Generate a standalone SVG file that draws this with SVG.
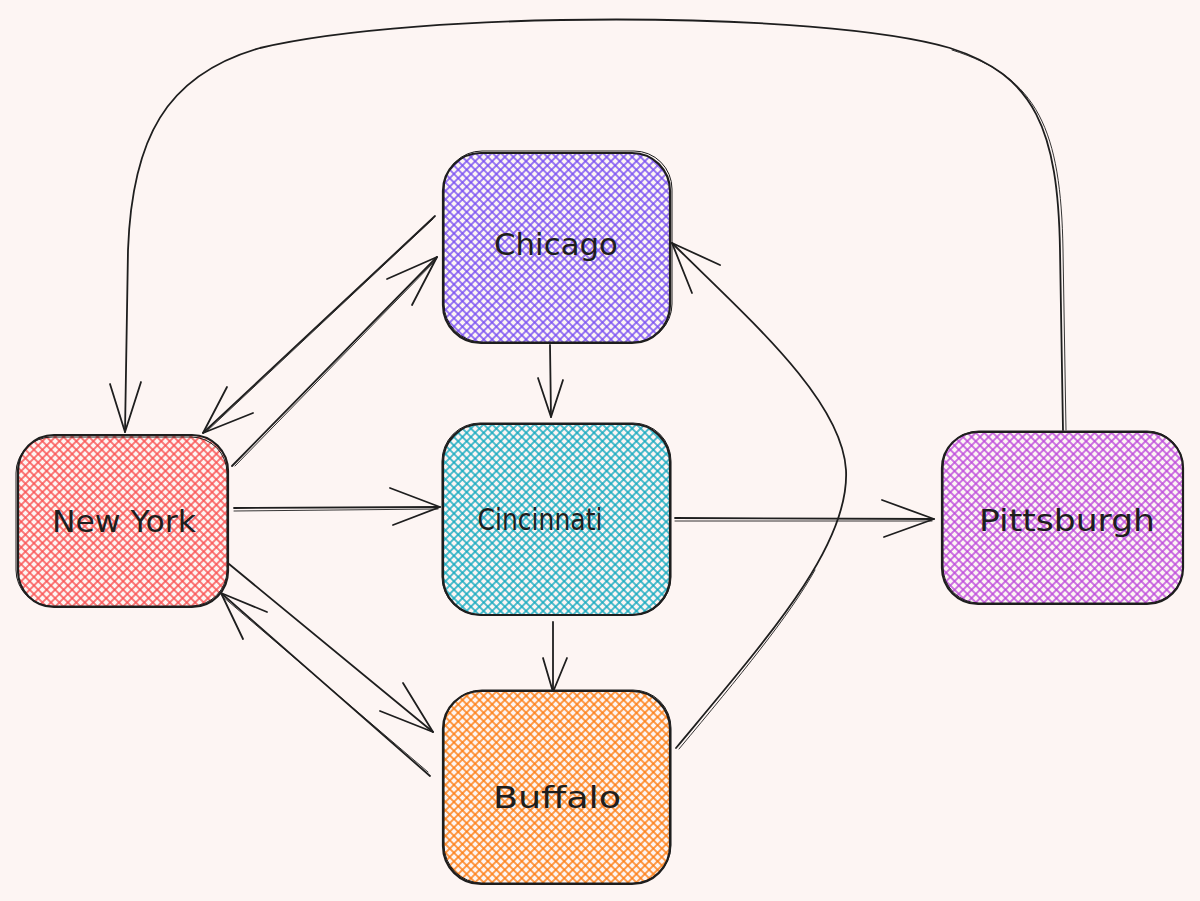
<svg xmlns="http://www.w3.org/2000/svg" width="1200" height="901" viewBox="0 0 1200 901">
<defs>
<style>
.box{stroke:#1e1e1e;stroke-width:2.2;}
.box2{fill:none;stroke:#1e1e1e;stroke-width:1;}
.lbl{font-family:"DejaVu Sans","Liberation Sans",sans-serif;font-size:30px;fill:#1e1e1e;text-anchor:middle;dominant-baseline:central;}
.edge{fill:none;stroke:#1e1e1e;stroke-width:1.8;stroke-linecap:round;stroke-linejoin:round;}
.edge2{fill:none;stroke:#1e1e1e;stroke-width:0.9;stroke-linecap:round;}
</style>
<pattern id="hRed" patternUnits="userSpaceOnUse" width="6" height="6" patternTransform="rotate(45)"><rect width="6" height="6" fill="#fdf5f3"/><path d="M0 0V6M0 0H6M6 0V6M0 6H6" stroke="#fa5252" stroke-width="1.5"/></pattern>
<pattern id="hPurple" patternUnits="userSpaceOnUse" width="6" height="6" patternTransform="rotate(45)"><rect width="6" height="6" fill="#fdf5f3"/><path d="M0 0V6M0 0H6M6 0V6M0 6H6" stroke="#7950f2" stroke-width="1.5"/></pattern>
<pattern id="hTeal" patternUnits="userSpaceOnUse" width="6" height="6" patternTransform="rotate(45)"><rect width="6" height="6" fill="#fdf5f3"/><path d="M0 0V6M0 0H6M6 0V6M0 6H6" stroke="#15aabf" stroke-width="1.5"/></pattern>
<pattern id="hOrange" patternUnits="userSpaceOnUse" width="6" height="6" patternTransform="rotate(45)"><rect width="6" height="6" fill="#fdf5f3"/><path d="M0 0V6M0 0H6M6 0V6M0 6H6" stroke="#fd7e14" stroke-width="1.5"/></pattern>
<pattern id="hMagenta" patternUnits="userSpaceOnUse" width="6" height="6" patternTransform="rotate(45)"><rect width="6" height="6" fill="#fdf5f3"/><path d="M0 0V6M0 0H6M6 0V6M0 6H6" stroke="#be4bdb" stroke-width="1.5"/></pattern>
</defs>
<rect x="0" y="0" width="1200" height="901" fill="#fdf5f3"/>

<g id="connectors">
  <g id="e-pit-ny">
    <path class="edge" d="M1063 430 L1060 250 C1058 130 1035 75 950 48 C 820 10 420 10 260 48 C 165 75 132 140 128 250 L125 432"/>
    <path class="edge2" d="M1066 430 L1063 250 C1061 130 1038 77 952 50"/>
    <path class="edge" d="M110 384 L125 432 L141 382"/>
  </g>
  <g id="e-chi-ny">
    <path class="edge" d="M435 216 L203 433"/>
    <path class="edge2" d="M433 219 L206 432"/>
    <path class="edge" d="M227 387 L203 433 L253 413"/>
  </g>
  <g id="e-ny-chi">
    <path class="edge" d="M232 466 L437 257"/>
    <path class="edge2" d="M235 466 L436 260"/>
    <path class="edge" d="M387 279 L437 257 L412 305"/>
  </g>
  <g id="e-ny-cin">
    <path class="edge" d="M234 508 L440 507"/>
    <path class="edge2" d="M234 511 L438 509"/>
    <path class="edge" d="M390 488 L440 507 L393 525"/>
  </g>
  <g id="e-ny-buf">
    <path class="edge" d="M229 564 L433 732"/>
    <path class="edge" d="M380 711 L433 732 L403 683"/>
  </g>
  <g id="e-buf-ny">
    <path class="edge" d="M430 776 L221 593"/>
    <path class="edge2" d="M428 772 L222 596"/>
    <path class="edge" d="M267 612 L221 593 L243 639"/>
  </g>
  <g id="e-chi-cin">
    <path class="edge" d="M550 345 L551 417"/>
    <path class="edge" d="M538 378 L551 417 L563 380"/>
  </g>
  <g id="e-cin-buf">
    <path class="edge" d="M553 622 L553 692"/>
    <path class="edge" d="M543 658 L553 692 L567 658"/>
  </g>
  <g id="e-cin-pit">
    <path class="edge" d="M675 518 L934 519"/>
    <path class="edge2" d="M675 521 L932 521"/>
    <path class="edge" d="M882 500 L934 519 L884 537"/>
  </g>
  <g id="e-buf-chi">
    <path class="edge" d="M676 748 C 770 635 850 545 846 470 C 842 400 750 320 672 243"/>
    <path class="edge2" d="M679 749 C 740 676 790 615 815 570"/>
    <path class="edge" d="M720 265 L672 243 L692 293"/>
  </g>
</g>

<g id="node-newyork">
  <rect class="box" x="18" y="435" width="210" height="172" rx="36" fill="url(#hRed)"/>
  <rect class="box2" x="16" y="437" width="211" height="169" rx="36"/>
  <text class="lbl" x="124" y="521" textLength="144" lengthAdjust="spacingAndGlyphs">New York</text>
</g>
<g id="node-chicago">
  <rect class="box" x="443" y="153" width="227" height="190" rx="38" fill="url(#hPurple)"/>
  <rect class="box2" x="444" y="151" width="228" height="191" rx="38"/>
  <text class="lbl" x="556" y="244" textLength="124" lengthAdjust="spacingAndGlyphs">Chicago</text>
</g>
<g id="node-cincinnati">
  <rect class="box" x="443" y="424" width="227" height="191" rx="38" fill="url(#hTeal)"/>
  <rect class="box2" x="442" y="423" width="229" height="192" rx="38"/>
  <text class="lbl" x="540" y="519" textLength="125" lengthAdjust="spacingAndGlyphs">Cincinnati</text>
</g>
<g id="node-buffalo">
  <rect class="box" x="443" y="691" width="227" height="193" rx="38" fill="url(#hOrange)"/>
  <rect class="box2" x="444" y="690" width="227" height="193" rx="38"/>
  <text class="lbl" x="557" y="797" textLength="128" lengthAdjust="spacingAndGlyphs">Buffalo</text>
</g>
<g id="node-pittsburgh">
  <rect class="box" x="942" y="432" width="241" height="172" rx="36" fill="url(#hMagenta)"/>
  <rect class="box2" x="943" y="431" width="240" height="172" rx="36"/>
  <text class="lbl" x="1067" y="520" textLength="176" lengthAdjust="spacingAndGlyphs">Pittsburgh</text>
</g>
</svg>
